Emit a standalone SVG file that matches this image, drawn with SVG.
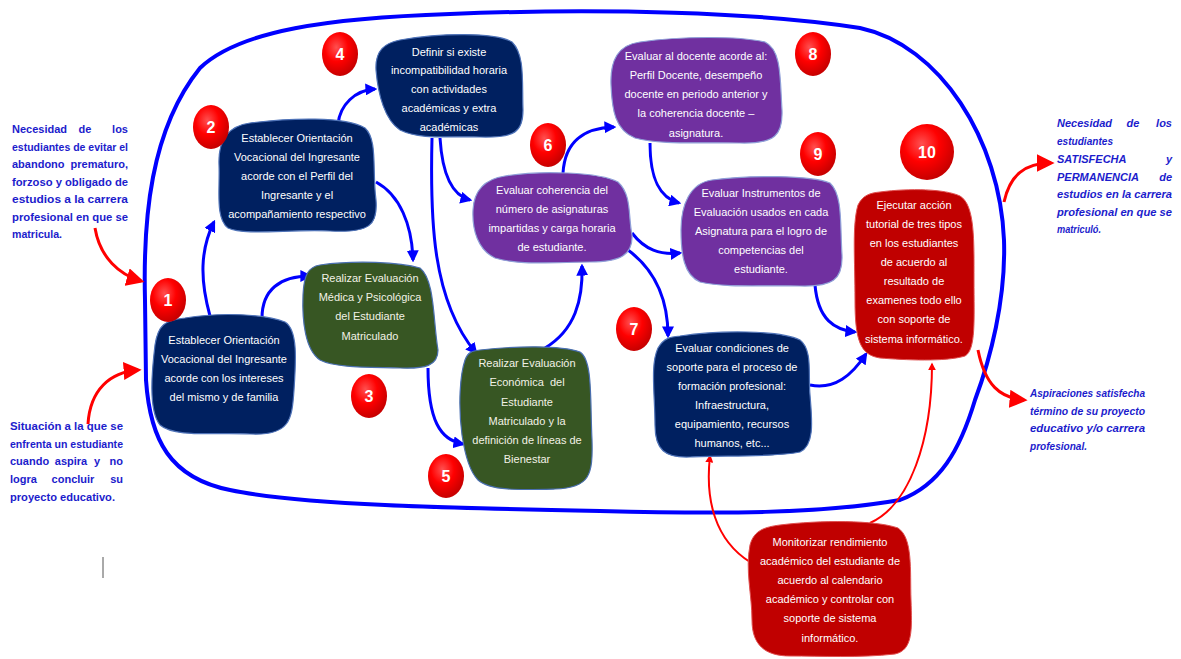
<svg xmlns="http://www.w3.org/2000/svg" width="1181" height="659" viewBox="0 0 1181 659">
<defs>
<radialGradient id="ball" cx="0.4" cy="0.35" r="0.65">
<stop offset="0" stop-color="#ff5050"/>
<stop offset="0.5" stop-color="#ff0000"/>
<stop offset="1" stop-color="#c80000"/>
</radialGradient>
<marker id="ab" viewBox="0 0 10 10" refX="8" refY="5" markerWidth="4" markerHeight="4" orient="auto" markerUnits="strokeWidth">
<path d="M0,0 L10,5 L0,10 Z" fill="#0000ff"/>
</marker>
<marker id="ar" viewBox="0 0 10 10" refX="8" refY="5" markerWidth="4" markerHeight="4" orient="auto" markerUnits="strokeWidth">
<path d="M0,0 L10,5 L0,10 Z" fill="#ff0000"/>
</marker>
<marker id="ar2" viewBox="0 0 10 10" refX="8" refY="5" markerWidth="6" markerHeight="6" orient="auto" markerUnits="strokeWidth">
<path d="M0,0 L10,5 L0,10 Z" fill="#ff0000"/>
</marker>
</defs>
<style>
.navy{fill:#002060;stroke:#4f73b8;stroke-width:1.2}
.green{fill:#375623;stroke:#4a6fb0;stroke-width:1.2}
.purple{fill:#7030a0;stroke:#8fa0d8;stroke-width:1.2}
.red{fill:#c00000;stroke:#e05050;stroke-width:1}
.t{font-family:"Liberation Sans",Arial,sans-serif;font-size:11px;fill:#ffffff;text-anchor:middle}
.tg{fill:#f2f2e6}
.side{font-family:"Liberation Sans",Arial,sans-serif;font-size:11px;font-weight:bold;fill:#1c1ccc}
.it{font-style:italic}
.num{font-family:"Liberation Sans",Arial,sans-serif;font-size:16px;font-weight:bold;fill:#ffffff;text-anchor:middle}
.bl{fill:none;stroke:#0000ff;stroke-width:3;marker-end:url(#ab)}
.rl{fill:none;stroke:#ff0000;stroke-width:2;marker-end:url(#ar)}
.rt{fill:none;stroke:#ff0000;stroke-width:3;marker-end:url(#ar2)}
</style>
<rect width="1181" height="659" fill="#ffffff"/>

<!-- big loop -->
<path id="loop" d="M145,300 C 143,220 150,130 200,68 C 240,30 330,18 450,14 C 600,8 760,12 860,28 C 940,45 1000,140 1004,240 C 1006,300 990,360 975,400 C 960,450 940,485 900,500 C 820,514 720,514 600,511 C 450,508 300,505 230,490 C 170,478 150,440 146,380 Z" fill="none" stroke="#0000ff" stroke-width="4"/>

<line x1="103" y1="557" x2="103" y2="578" stroke="#555555" stroke-width="1"/>

<!-- side texts -->
<g id="text-left-top" class="side">
<text y="133"><tspan x="12">Necesidad</tspan><tspan x="85" text-anchor="middle">de</tspan><tspan x="128" text-anchor="end">los</tspan></text>
<text x="12" y="151" textLength="116" lengthAdjust="spacingAndGlyphs">estudiantes de evitar el</text>
<text y="168"><tspan x="12">abandono</tspan><tspan x="128" text-anchor="end">prematuro,</tspan></text>
<text x="12" y="186" textLength="116" lengthAdjust="spacingAndGlyphs">forzoso y obligado de</text>
<text x="12" y="203" textLength="116" lengthAdjust="spacingAndGlyphs">estudios a la carrera</text>
<text x="12" y="221" textLength="116" lengthAdjust="spacingAndGlyphs">profesional en que se</text>
<text x="12" y="238" textLength="50" lengthAdjust="spacingAndGlyphs">matricula.</text>
</g>
<g id="text-left-bottom" class="side">
<text x="10" y="430" textLength="113" lengthAdjust="spacingAndGlyphs">Situación a la que se</text>
<text x="10" y="448" textLength="113" lengthAdjust="spacingAndGlyphs">enfrenta un estudiante</text>
<text y="465"><tspan x="10">cuando</tspan><tspan x="71" text-anchor="middle">aspira</tspan><tspan x="97" text-anchor="middle">y</tspan><tspan x="123" text-anchor="end">no</tspan></text>
<text y="483"><tspan x="10">logra</tspan><tspan x="73" text-anchor="middle">concluir</tspan><tspan x="123" text-anchor="end">su</tspan></text>
<text x="10" y="501" textLength="105" lengthAdjust="spacingAndGlyphs">proyecto educativo.</text>
</g>
<g id="text-right-top" class="side it">
<text y="127"><tspan x="1057">Necesidad</tspan><tspan x="1133" text-anchor="middle">de</tspan><tspan x="1172" text-anchor="end">los</tspan></text>
<text x="1057" y="145" textLength="56" lengthAdjust="spacingAndGlyphs">estudiantes</text>
<text y="163"><tspan x="1057">SATISFECHA</tspan><tspan x="1172" text-anchor="end">y</tspan></text>
<text y="181"><tspan x="1057">PERMANENCIA</tspan><tspan x="1172" text-anchor="end">de</tspan></text>
<text x="1057" y="198" textLength="115" lengthAdjust="spacingAndGlyphs">estudios en la carrera</text>
<text x="1057" y="216" textLength="115" lengthAdjust="spacingAndGlyphs">profesional en que se</text>
<text x="1057" y="233" textLength="44" lengthAdjust="spacingAndGlyphs">matriculó.</text>
</g>
<g id="text-right-bottom" class="side it">
<text x="1030" y="397" textLength="115" lengthAdjust="spacingAndGlyphs">Aspiraciones satisfecha</text>
<text x="1030" y="415" textLength="115" lengthAdjust="spacingAndGlyphs">término de su proyecto</text>
<text x="1030" y="432" textLength="115" lengthAdjust="spacingAndGlyphs">educativo y/o carrera</text>
<text x="1030" y="450" textLength="57" lengthAdjust="spacingAndGlyphs">profesional.</text>
</g>

<!-- connectors -->
<g id="connectors">
<path class="bl" d="M210,316 C 200,280 200,250 214,222"/>
<path class="bl" d="M262,318 C 262,290 280,276 310,276"/>
<path class="bl" d="M376,182 C 400,195 412,225 413,260"/>
<path class="bl" d="M338,124 C 340,105 355,90 375,89"/>
<path class="bl" d="M432,138 C 430,220 432,300 476,353"/>
<path class="bl" d="M440,138 C 442,170 450,195 470,200"/>
<path class="bl" d="M428,368 C 428,420 440,440 463,444"/>
<path class="bl" d="M545,348 C 575,330 583,300 582,266"/>
<path class="bl" d="M563,173 C 565,140 585,128 614,127"/>
<path class="bl" d="M650,143 C 650,180 660,198 679,203"/>
<path class="bl" d="M632,233 C 645,250 660,255 680,253"/>
<path class="bl" d="M628,250 C 655,270 668,300 668,336"/>
<path class="bl" d="M815,285 C 818,320 835,330 855,332"/>
<path class="bl" d="M810,385 C 835,390 852,375 866,354"/>
<path class="rl" d="M750,562 C 715,540 705,500 710,456"/>
<path class="rl" d="M870,523 C 910,505 932,440 932,364"/>
<path class="rt" d="M95,228 C 100,258 120,275 141,281"/>
<path class="rt" d="M88,424 C 90,390 110,372 138,370"/>
<path class="rt" d="M1004,202 C 1010,175 1025,163 1051,163"/>
<path class="rt" d="M978,350 C 985,385 1000,398 1024,400"/>
</g>

<!-- nodes -->
<g id="n1">
<path class="navy" d="M185,318 C 220,312 265,314 285,322 C 298,330 296,360 294,390 C 292,420 290,436 250,434 C 215,432 175,438 160,425 C 148,410 152,370 155,345 C 158,325 165,320 185,318 Z"/>
<text class="t" x="224" y="344">Establecer Orientación</text>
<text class="t" x="224" y="363">Vocacional del Ingresante</text>
<text class="t" x="224" y="382">acorde con los intereses</text>
<text class="t" x="224" y="401">del mismo y de familia</text>
</g>
<g id="n2">
<path class="navy" d="M250,123 C 290,118 345,116 365,128 C 378,140 372,170 376,200 C 378,225 370,233 330,231 C 290,229 245,236 228,228 C 215,218 220,190 219,165 C 218,140 228,126 250,123 Z"/>
<text class="t" x="297" y="142">Establecer Orientación</text>
<text class="t" x="297" y="161">Vocacional del Ingresante</text>
<text class="t" x="297" y="180">acorde con el Perfil del</text>
<text class="t" x="297" y="199">Ingresante y el</text>
<text class="t" x="297" y="218">acompañamiento respectivo</text>
</g>
<g id="n3">
<path class="green" d="M320,265 C 355,260 400,262 420,268 C 435,280 433,320 438,350 C 438,366 425,369 400,368 C 370,367 335,368 320,360 C 305,350 302,320 303,295 C 304,275 308,267 320,265 Z"/>
<text class="t tg" x="370" y="282">Realizar Evaluación</text>
<text class="t tg" x="370" y="301">Médica y Psicológica</text>
<text class="t tg" x="370" y="320">del Estudiante</text>
<text class="t tg" x="370" y="340">Matriculado</text>
</g>
<g id="n4">
<path class="navy" d="M400,40 C 440,33 495,32 512,42 C 525,55 522,80 523,110 C 523,132 515,138 480,137 C 450,136 420,140 400,130 C 385,120 378,95 376,70 C 375,50 385,43 400,40 Z"/>
<text class="t" x="449" y="56">Definir si existe</text>
<text class="t" x="449" y="74">incompatibilidad horaria</text>
<text class="t" x="449" y="93">con actividades</text>
<text class="t" x="449" y="112">académicas y extra</text>
<text class="t" x="449" y="131">académicas</text>
</g>
<g id="n5">
<path class="green" d="M480,350 C 515,346 560,345 580,352 C 593,360 590,400 592,440 C 593,475 590,488 555,489 C 520,490 490,491 478,480 C 470,472 465,455 462,435 C 458,405 460,375 465,360 C 468,352 472,351 480,350 Z"/>
<text class="t tg" x="527" y="367">Realizar Evaluación</text>
<text class="t tg" x="527" y="386" xml:space="preserve">Económica  del</text>
<text class="t tg" x="527" y="406">Estudiante</text>
<text class="t tg" x="527" y="425">Matriculado y la</text>
<text class="t tg" x="527" y="444">definición de líneas de</text>
<text class="t tg" x="527" y="463">Bienestar</text>
</g>
<g id="n6">
<path class="purple" d="M505,176 C 540,170 600,172 618,182 C 632,195 628,215 632,235 C 633,255 620,262 590,262 C 560,262 520,266 495,258 C 478,250 472,230 473,210 C 474,190 485,179 505,176 Z"/>
<text class="t" x="552" y="194">Evaluar coherencia del</text>
<text class="t" x="552" y="213">número de asignaturas</text>
<text class="t" x="552" y="232">impartidas y carga horaria</text>
<text class="t" x="552" y="251">de estudiante.</text>
</g>
<g id="n7">
<path class="navy" d="M680,336 C 720,330 780,330 800,340 C 813,350 808,375 810,395 C 812,420 815,445 800,452 C 770,458 720,455 690,457 C 665,458 655,450 655,425 C 655,395 650,365 658,348 C 664,338 670,337 680,336 Z"/>
<text class="t" x="732" y="352">Evaluar condiciones de</text>
<text class="t" x="732" y="371">soporte para el proceso de</text>
<text class="t" x="732" y="390">formación profesional:</text>
<text class="t" x="732" y="409">Infraestructura,</text>
<text class="t" x="732" y="428">equipamiento, recursos</text>
<text class="t" x="732" y="447">humanos, etc...</text>
</g>
<g id="n8">
<path class="purple" d="M640,42 C 680,36 740,36 765,42 C 782,50 780,80 782,110 C 783,135 775,144 740,143 C 700,142 660,145 635,138 C 615,130 612,110 611,85 C 610,60 618,45 640,42 Z"/>
<text class="t" x="696" y="60">Evaluar al docente acorde al:</text>
<text class="t" x="696" y="79">Perfil Docente, desempeño</text>
<text class="t" x="696" y="98">docente en periodo anterior y</text>
<text class="t" x="696" y="117">la coherencia docente –</text>
<text class="t" x="696" y="137">asignatura.</text>
</g>
<g id="n9">
<path class="purple" d="M712,180 C 750,175 810,175 830,183 C 843,195 840,225 842,255 C 843,280 832,287 800,286 C 765,285 725,288 700,282 C 684,275 681,255 681,230 C 681,205 690,183 712,180 Z"/>
<text class="t" x="761" y="197">Evaluar Instrumentos de</text>
<text class="t" x="761" y="216">Evaluación usados en cada</text>
<text class="t" x="761" y="235">Asignatura para el logro de</text>
<text class="t" x="761" y="254">competencias del</text>
<text class="t" x="761" y="273">estudiante.</text>
</g>
<g id="n10">
<path class="red" d="M880,192 C 910,188 945,189 960,196 C 975,205 974,240 974,280 C 974,320 976,350 965,356 C 945,362 905,360 880,358 C 860,355 855,340 855,300 C 855,260 852,225 858,205 C 863,195 870,193 880,192 Z"/>
<text class="t" x="914" y="209">Ejecutar acción</text>
<text class="t" x="914" y="228">tutorial de tres tipos</text>
<text class="t" x="914" y="247">en los estudiantes</text>
<text class="t" x="914" y="266">de acuerdo al</text>
<text class="t" x="914" y="285">resultado de</text>
<text class="t" x="914" y="304">examenes todo ello</text>
<text class="t" x="914" y="323">con soporte de</text>
<text class="t" x="914" y="343">sistema informático.</text>
</g>
<g id="n11">
<path class="red" d="M780,525 C 820,520 875,520 898,528 C 913,538 910,570 911,600 C 912,630 913,650 895,654 C 860,658 820,656 790,656 C 765,656 752,645 752,620 C 752,595 745,570 750,545 C 754,530 765,527 780,525 Z"/>
<text class="t" x="830" y="546">Monitorizar rendimiento</text>
<text class="t" x="830" y="565">académico del estudiante de</text>
<text class="t" x="830" y="584">acuerdo al calendario</text>
<text class="t" x="830" y="603">académico y controlar con</text>
<text class="t" x="830" y="622">soporte de sistema</text>
<text class="t" x="830" y="642">informático.</text>
</g>

<!-- number badges -->
<g id="b1"><ellipse cx="168" cy="300" rx="18" ry="22" fill="url(#ball)"/><text class="num" x="168" y="306">1</text></g>
<g id="b2"><ellipse cx="211" cy="127" rx="18" ry="22" fill="url(#ball)"/><text class="num" x="211" y="133">2</text></g>
<g id="b3"><ellipse cx="369" cy="396" rx="18" ry="22" fill="url(#ball)"/><text class="num" x="369" y="402">3</text></g>
<g id="b4"><ellipse cx="340" cy="54" rx="18" ry="22" fill="url(#ball)"/><text class="num" x="340" y="60">4</text></g>
<g id="b5"><ellipse cx="446" cy="476" rx="18" ry="22" fill="url(#ball)"/><text class="num" x="446" y="482">5</text></g>
<g id="b6"><ellipse cx="548" cy="145" rx="18" ry="22" fill="url(#ball)"/><text class="num" x="548" y="151">6</text></g>
<g id="b7"><ellipse cx="634" cy="329" rx="18" ry="22" fill="url(#ball)"/><text class="num" x="634" y="335">7</text></g>
<g id="b8"><ellipse cx="813" cy="54" rx="18" ry="22" fill="url(#ball)"/><text class="num" x="813" y="60">8</text></g>
<g id="b9"><ellipse cx="818" cy="154" rx="18" ry="22" fill="url(#ball)"/><text class="num" x="818" y="160">9</text></g>
<g id="b10"><ellipse cx="927" cy="152" rx="27" ry="28" fill="url(#ball)"/><text class="num" x="927" y="158">10</text></g>
</svg>
